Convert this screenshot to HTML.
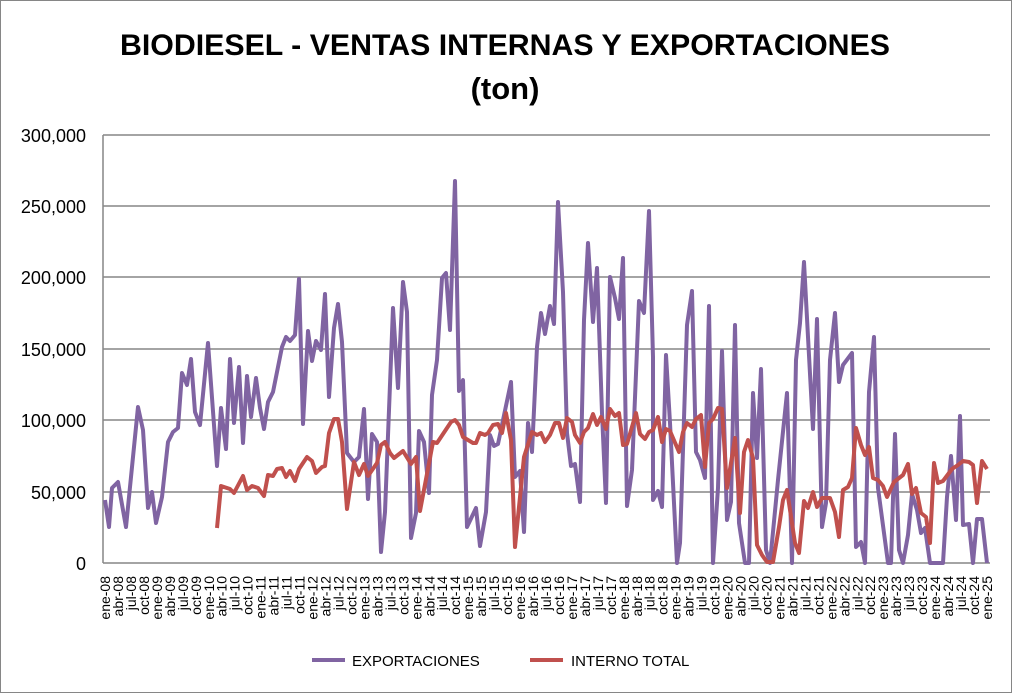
<!DOCTYPE html>
<html><head><meta charset="utf-8"><style>
body{margin:0;background:#fff}
svg{display:block;font-family:"Liberation Sans",sans-serif}
</style></head><body>
<svg width="1012" height="693" viewBox="0 0 1012 693" xmlns="http://www.w3.org/2000/svg">
<rect x="0.5" y="0.5" width="1011" height="692" fill="#fff" stroke="#868686"/>
<text x="505" y="55" text-anchor="middle" font-size="30" font-weight="bold" textLength="770" lengthAdjust="spacingAndGlyphs">BIODIESEL - VENTAS INTERNAS Y EXPORTACIONES</text>
<text x="505" y="99" text-anchor="middle" font-size="31" font-weight="bold">(ton)</text>
<g stroke="#868686" stroke-width="1.5">
<line x1="103" y1="135" x2="990" y2="135"/>
<line x1="103" y1="206" x2="990" y2="206"/>
<line x1="103" y1="277" x2="990" y2="277"/>
<line x1="103" y1="349" x2="990" y2="349"/>
<line x1="103" y1="420" x2="990" y2="420"/>
<line x1="103" y1="492" x2="990" y2="492"/>
<line x1="103" y1="563" x2="990" y2="563"/>
<line x1="103" y1="135" x2="103" y2="563"/>
</g>
<g font-size="18" text-anchor="end" fill="#000">
<text x="86" y="142">300,000</text>
<text x="86" y="213">250,000</text>
<text x="86" y="284">200,000</text>
<text x="86" y="356">150,000</text>
<text x="86" y="427">100,000</text>
<text x="86" y="499">50,000</text>
<text x="86" y="570">0</text>
</g>
<g font-size="14" text-anchor="end">
<text transform="translate(110.0,576) rotate(-90)">ene-08</text>
<text transform="translate(123.0,576) rotate(-90)">abr-08</text>
<text transform="translate(135.9,576) rotate(-90)">jul-08</text>
<text transform="translate(148.9,576) rotate(-90)">oct-08</text>
<text transform="translate(161.9,576) rotate(-90)">ene-09</text>
<text transform="translate(174.9,576) rotate(-90)">abr-09</text>
<text transform="translate(187.8,576) rotate(-90)">jul-09</text>
<text transform="translate(200.8,576) rotate(-90)">oct-09</text>
<text transform="translate(213.8,576) rotate(-90)">ene-10</text>
<text transform="translate(226.7,576) rotate(-90)">abr-10</text>
<text transform="translate(239.7,576) rotate(-90)">jul-10</text>
<text transform="translate(252.7,576) rotate(-90)">oct-10</text>
<text transform="translate(265.6,576) rotate(-90)">ene-11</text>
<text transform="translate(278.6,576) rotate(-90)">abr-11</text>
<text transform="translate(291.6,576) rotate(-90)">jul-11</text>
<text transform="translate(304.6,576) rotate(-90)">oct-11</text>
<text transform="translate(317.5,576) rotate(-90)">ene-12</text>
<text transform="translate(330.5,576) rotate(-90)">abr-12</text>
<text transform="translate(343.5,576) rotate(-90)">jul-12</text>
<text transform="translate(356.4,576) rotate(-90)">oct-12</text>
<text transform="translate(369.4,576) rotate(-90)">ene-13</text>
<text transform="translate(382.4,576) rotate(-90)">abr-13</text>
<text transform="translate(395.3,576) rotate(-90)">jul-13</text>
<text transform="translate(408.3,576) rotate(-90)">oct-13</text>
<text transform="translate(421.3,576) rotate(-90)">ene-14</text>
<text transform="translate(434.3,576) rotate(-90)">abr-14</text>
<text transform="translate(447.2,576) rotate(-90)">jul-14</text>
<text transform="translate(460.2,576) rotate(-90)">oct-14</text>
<text transform="translate(473.2,576) rotate(-90)">ene-15</text>
<text transform="translate(486.1,576) rotate(-90)">abr-15</text>
<text transform="translate(499.1,576) rotate(-90)">jul-15</text>
<text transform="translate(512.1,576) rotate(-90)">oct-15</text>
<text transform="translate(525.0,576) rotate(-90)">ene-16</text>
<text transform="translate(538.0,576) rotate(-90)">abr-16</text>
<text transform="translate(551.0,576) rotate(-90)">jul-16</text>
<text transform="translate(564.0,576) rotate(-90)">oct-16</text>
<text transform="translate(576.9,576) rotate(-90)">ene-17</text>
<text transform="translate(589.9,576) rotate(-90)">abr-17</text>
<text transform="translate(602.9,576) rotate(-90)">jul-17</text>
<text transform="translate(615.8,576) rotate(-90)">oct-17</text>
<text transform="translate(628.8,576) rotate(-90)">ene-18</text>
<text transform="translate(641.8,576) rotate(-90)">abr-18</text>
<text transform="translate(654.7,576) rotate(-90)">jul-18</text>
<text transform="translate(667.7,576) rotate(-90)">oct-18</text>
<text transform="translate(680.7,576) rotate(-90)">ene-19</text>
<text transform="translate(693.7,576) rotate(-90)">abr-19</text>
<text transform="translate(706.6,576) rotate(-90)">jul-19</text>
<text transform="translate(719.6,576) rotate(-90)">oct-19</text>
<text transform="translate(732.6,576) rotate(-90)">ene-20</text>
<text transform="translate(745.5,576) rotate(-90)">abr-20</text>
<text transform="translate(758.5,576) rotate(-90)">jul-20</text>
<text transform="translate(771.5,576) rotate(-90)">oct-20</text>
<text transform="translate(784.4,576) rotate(-90)">ene-21</text>
<text transform="translate(797.4,576) rotate(-90)">abr-21</text>
<text transform="translate(810.4,576) rotate(-90)">jul-21</text>
<text transform="translate(823.4,576) rotate(-90)">oct-21</text>
<text transform="translate(836.3,576) rotate(-90)">ene-22</text>
<text transform="translate(849.3,576) rotate(-90)">abr-22</text>
<text transform="translate(862.3,576) rotate(-90)">jul-22</text>
<text transform="translate(875.2,576) rotate(-90)">oct-22</text>
<text transform="translate(888.2,576) rotate(-90)">ene-23</text>
<text transform="translate(901.2,576) rotate(-90)">abr-23</text>
<text transform="translate(914.1,576) rotate(-90)">jul-23</text>
<text transform="translate(927.1,576) rotate(-90)">oct-23</text>
<text transform="translate(940.1,576) rotate(-90)">ene-24</text>
<text transform="translate(953.1,576) rotate(-90)">abr-24</text>
<text transform="translate(966.0,576) rotate(-90)">jul-24</text>
<text transform="translate(979.0,576) rotate(-90)">oct-24</text>
<text transform="translate(992.0,576) rotate(-90)">ene-25</text>
</g>
<polyline fill="none" stroke="#8064A2" stroke-width="4" stroke-linejoin="round" points="105,500 109,527 112,488 118,482 126,527 138,407 143,430 148,508 152,492 156,523 162,497 168,442 173,432 178,428 182,373 187,385 191,359 195,412 200,425 208,343 217,466 221,408 226,449 230,359 234,423 239,367 243,443 247,376 251,417 256,378 260,408 264,429 268,402 273,392 282,347 286,337 290,341 295,335 299,279 303,424 308,331 312,361 316,341 321,350 325,294 329,397 334,328 338,304 342,342 347,453 354,462 359,457 364,409 368,499 372,434 377,442 381,552 385,512 393,308 398,388 403,282 407,312 411,538 416,513 419,431 424,442 429,493 432,395 437,360 442,278 446,273 450,330 455,181 459,391 463,380 467,527 476,508 480,546 486,512 490,435 494,446 498,444 511,382 515,477 520,471 524,532 528,423 532,452 537,347 541,313 545,334 550,306 554,324 558,202 563,292 567,433 571,466 575,464 580,502 584,320 588,243 593,322 597,268 602,413 606,503 610,277 615,298 619,319 623,258 627,506 632,470 639,301 644,313 649,211 653,357 653,500 658,491 662,507 666,355 670,423 677,563 680,543 687,325 692,291 696,452 700,460 705,478 709,306 713,563 718,488 722,351 727,520 731,502 735,325 739,523 745,563 749,563 753,393 757,458 761,369 766,550 770,563 778,480 787,393 792,563 796,360 800,323 804,262 808,337 813,429 817,319 822,527 826,503 830,360 835,313 839,382 843,365 852,353 856,547 861,542 865,563 869,392 874,337 878,488 888,563 891,563 895,434 899,550 903,563 908,535 912,494 917,510 921,533 925,528 930,563 943,563 947,497 951,456 956,520 960,416 963,525 969,524 973,563 977,519 982,519 987,563"/>
<polyline fill="none" stroke="#C0504D" stroke-width="4" stroke-linejoin="round" points="217,528 221,486 230,489 234,493 243,476 247,490 252,486 258,488 264,496 268,475 273,476 277,469 282,468 286,477 290,471 295,481 299,469 307,457 312,461 316,473 322,467 325,466 329,433 334,419 338,419 342,442 347,509 354,462 359,475 364,464 368,476 377,463 381,445 385,442 390,453 394,458 403,451 411,464 416,457 420,511 433,442 437,443 451,422 455,420 459,425 463,437 473,443 476,443 480,433 485,435 488,433 493,425 498,424 502,433 506,413 511,440 515,547 524,457 532,432 537,435 541,433 545,442 550,435 555,423 559,423 563,438 567,418 572,422 575,435 580,443 584,432 588,428 593,414 597,425 601,417 606,429 610,409 615,416 619,413 623,445 627,444 636,413 640,434 645,439 649,432 653,430 658,417 662,442 666,429 670,431 679,452 683,432 687,423 692,427 696,419 701,415 705,467 709,423 713,419 718,408 722,409 727,488 735,438 740,513 744,452 748,440 753,458 757,545 762,555 767,562 773,562 779,527 783,500 787,490 795,543 799,553 804,501 808,508 813,492 817,507 822,498 830,498 835,512 839,537 843,490 848,487 852,478 856,428 861,445 865,455 869,447 873,478 878,480 883,486 887,497 894,482 903,475 908,464 912,494 916,488 921,513 926,517 930,543 934,463 938,483 943,481 952,469 958,465 963,461 969,462 973,465 977,503 982,461 987,469"/>
<line x1="312" y1="660" x2="345" y2="660" stroke="#8064A2" stroke-width="4"/>
<text x="352" y="666" font-size="15">EXPORTACIONES</text>
<line x1="530" y1="660" x2="563" y2="660" stroke="#C0504D" stroke-width="4"/>
<text x="571" y="666" font-size="15">INTERNO TOTAL</text>
</svg>
</body></html>
